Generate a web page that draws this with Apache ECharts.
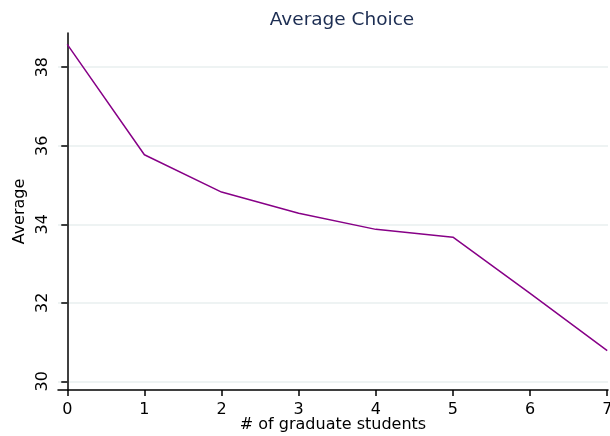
<!DOCTYPE html>
<html>
<head>
<meta charset="utf-8">
<script src="https://cdn.jsdelivr.net/npm/echarts@6/dist/echarts.min.js"></script>
<style>
  html, body { margin: 0; padding: 0; background: #fff; }
  #chart { width: 610px; height: 436px; }
</style>
</head>
<body>
<div id="chart"></div>
<script>
const students = [0, 1, 2, 3, 4, 5, 6, 7];
const averages = [38.58, 35.77, 34.82, 34.28, 33.87, 33.67, 32.24, 30.78];
const xTicks = [0, 1, 2, 3, 4, 5, 6, 7];
const yTicks = [30, 32, 34, 36, 38];

const font = 'DejaVu Sans';
const chart = echarts.init(document.getElementById('chart'));

chart.setOption({
  animation: false,
  backgroundColor: '#fff',
  title: {
    text: 'Average Choice',
    left: 337,
    textAlign: 'center',
    top: 6,
    textStyle: { color: '#1c2d52', fontSize: 18.5, fontWeight: 'normal', fontFamily: font }
  },
  grid: { left: 58, right: 2, top: 33, bottom: 46, outerBoundsMode: 'none' },
  xAxis: {
    type: 'value',
    min: -0.12,
    max: 7.01,
    name: '# of graduate students',
    nameLocation: 'middle',
    nameGap: 27,
    nameMoveOverlap: false,
    nameTextStyle: { color: '#000', fontSize: 16, fontFamily: font },
    axisLine: { onZero: false, lineStyle: { color: '#000', width: 1.5 } },
    axisTick: { customValues: xTicks, length: 6, lineStyle: { color: '#000', width: 1.5 } },
    axisLabel: { customValues: xTicks, color: '#000', fontSize: 16, fontFamily: font, margin: 12 },
    splitLine: { show: false }
  },
  yAxis: {
    type: 'value',
    min: 29.78,
    max: 38.87,
    name: 'Average',
    nameLocation: 'middle',
    nameGap: 30,
    nameMoveOverlap: false,
    nameRotate: 90,
    nameTextStyle: { color: '#000', fontSize: 16, fontFamily: font },
    axisLine: { show: true, lineStyle: { color: '#000', width: 1.5 } },
    axisTick: { show: true, customValues: yTicks, length: 6, lineStyle: { color: '#000', width: 1.5 } },
    axisLabel: { customValues: yTicks, rotate: 90, color: '#000', fontSize: 16, fontFamily: font, margin: 7 },
    splitLine: { show: true, lineStyle: { color: '#e8efef', width: 1.5 } }
  },
  series: [{
    type: 'line',
    data: students.map((s, i) => [s, averages[i]]),
    symbol: 'none',
    lineStyle: { color: '#870087', width: 1.5 },
    itemStyle: { color: '#870087' }
  }]
});
</script>
</body>
</html>
